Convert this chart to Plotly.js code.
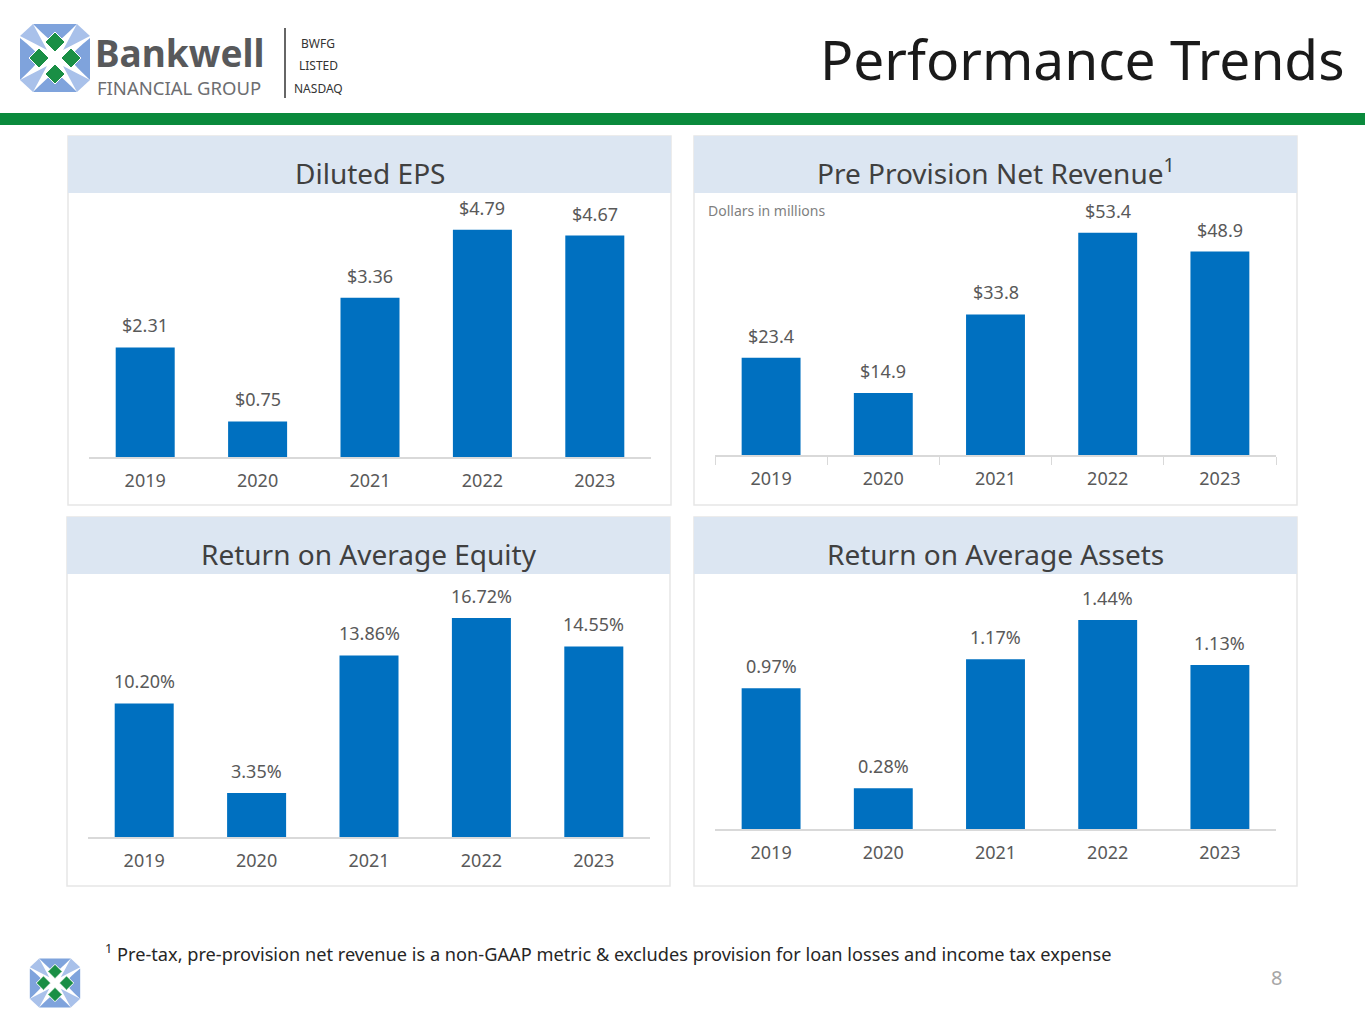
<!DOCTYPE html>
<html>
<head>
<meta charset="utf-8">
<script src="https://cdn.plot.ly/plotly-3.0.1.min.js"></script>
<style>
  html, body { margin: 0; padding: 0; background: #ffffff; }
  #chart { width: 1365px; height: 1024px; }
</style>
</head>
<body>
<div id="chart"></div>
<script>
// ---- Data ----
const years = ['2019', '2020', '2021', '2022', '2023'];
const epsValues = [2.31, 0.75, 3.36, 4.79, 4.67];
const ppnrValues = [23.4, 14.9, 33.8, 53.4, 48.9];
const roaeValues = [10.20, 3.35, 13.86, 16.72, 14.55];
const roaaValues = [0.97, 0.28, 1.17, 1.44, 1.13];

const epsLabels = epsValues.map(v => '$' + v.toFixed(2));
const ppnrLabels = ppnrValues.map(v => '$' + v.toFixed(1));
const roaeLabels = roaeValues.map(v => v.toFixed(2) + '%');
const roaaLabels = roaaValues.map(v => v.toFixed(2) + '%');

const panelTitles = ['Diluted EPS', 'Pre Provision Net Revenue<sup>1</sup>', 'Return on Average Equity', 'Return on Average Assets'];

// ---- Geometry helpers (pixel -> paper) ----
const W = 1365, H = 1024;
const X = p => p / W;
const Y = p => 1 - p / H;

const FONT = '"Noto Sans", "Open Sans", sans-serif';
const BAR = '#0070C0';
const LABEL = '#595959';

const panels = [
  {xa: 'x',  ya: 'y',  xd: [89, 651],  yd: [457, 200], box: [68, 136, 671, 505], vals: epsValues,  labels: epsLabels,  ymax: 5.42, ticks: false},
  {xa: 'x2', ya: 'y2', xd: [715, 1276], yd: [455, 200], box: [694, 136, 1297, 505], vals: ppnrValues, labels: ppnrLabels, ymax: 61.3, ticks: true},
  {xa: 'x3', ya: 'y3', xd: [88, 650],  yd: [837, 580], box: [67, 517, 670, 886], vals: roaeValues, labels: roaeLabels, ymax: 19.62, ticks: false},
  {xa: 'x4', ya: 'y4', xd: [715, 1276], yd: [829, 580], box: [694, 517, 1297, 886], vals: roaaValues, labels: roaaLabels, ymax: 1.716, ticks: false}
];

const traces = [];
const layout = {
  width: W, height: H,
  margin: {l: 0, r: 0, t: 0, b: 0},
  paper_bgcolor: '#ffffff',
  plot_bgcolor: 'rgba(0,0,0,0)',
  showlegend: false,
  bargap: 0.475,
  font: {family: FONT, color: LABEL},
  shapes: [],
  annotations: []
};

panels.forEach((p, i) => {
  traces.push({
    type: 'bar', x: years, y: p.vals,
    xaxis: p.xa, yaxis: p.ya,
    marker: {color: BAR, line: {width: 0}},
    hoverinfo: 'skip'
  });
  const xk = 'xaxis' + (i === 0 ? '' : i + 1);
  const yk = 'yaxis' + (i === 0 ? '' : i + 1);
  const xa = {
    domain: [X(p.xd[0]), X(p.xd[1])],
    anchor: p.ya,
    type: 'category',
    range: [-0.5, years.length - 0.5],
    showgrid: false, zeroline: false,
    showline: true, linecolor: '#d9d9d9', linewidth: 1.5,
    ticks: p.ticks ? 'outside' : '',
    ticklen: p.ticks ? 8 : 0,
    tickcolor: '#d9d9d9',
    ticklabelstandoff: 7,
    tickfont: {family: FONT, size: 18, color: LABEL},
    fixedrange: true
  };
  if (p.ticks) xa.tickson = 'boundaries';
  layout[xk] = xa;
  layout[yk] = {
    domain: [Y(p.yd[0]), Y(p.yd[1])],
    anchor: p.xa,
    range: [0, p.ymax],
    visible: false,
    fixedrange: true
  };
  // panel box
  const b = p.box;
  layout.shapes.push({type: 'rect', xref: 'paper', yref: 'paper', layer: 'below',
    x0: X(b[0]), x1: X(b[2]), y0: Y(b[1]), y1: Y(b[3]),
    line: {color: '#e6e6e6', width: 1.5}, fillcolor: '#ffffff'});
  // header band
  layout.shapes.push({type: 'rect', xref: 'paper', yref: 'paper', layer: 'below',
    x0: X(b[0]), x1: X(b[2]), y0: Y(b[1]), y1: Y(b[1] + 57),
    line: {width: 0}, fillcolor: '#dce6f2'});
  // header title
  layout.annotations.push({xref: 'paper', yref: 'paper',
    x: X((b[0] + b[2]) / 2), y: Y(b[1] + (i === 1 ? 35 : 37)), xanchor: 'center', yanchor: 'middle',
    text: panelTitles[i], showarrow: false,
    font: {family: FONT, size: 28, color: '#404040'}});
  // value labels (x given as category index)
  years.forEach((yr, j) => {
    layout.annotations.push({xref: p.xa, yref: p.ya, x: j, y: p.vals[j],
      xanchor: 'center', yanchor: 'bottom', yshift: 8,
      text: p.labels[j], showarrow: false,
      font: {family: FONT, size: 18, color: LABEL}});
  });
});

// Dollars in millions
layout.annotations.push({xref: 'paper', yref: 'paper', x: X(706), y: Y(210), xanchor: 'left', yanchor: 'middle',
  text: 'Dollars in millions', showarrow: false, font: {family: FONT, size: 14, color: '#7f7f7f'}});

// Green divider
layout.shapes.push({type: 'rect', xref: 'paper', yref: 'paper', layer: 'below',
  x0: 0, x1: 1, y0: Y(113), y1: Y(125), line: {width: 0}, fillcolor: '#0a8a3c'});

// Main title
layout.annotations.push({xref: 'paper', yref: 'paper', x: X(1347), y: Y(58), xanchor: 'right', yanchor: 'middle',
  text: 'Performance Trends', showarrow: false, font: {family: FONT, size: 55, color: '#1a1a1a'}});

// Logo text
layout.annotations.push({xref: 'paper', yref: 'paper', x: X(93), y: Y(52), xanchor: 'left', yanchor: 'middle',
  height: 38, text: '<b>Bankwell</b>', showarrow: false, font: {family: FONT, size: 37, color: '#58595b'}});
layout.annotations.push({xref: 'paper', yref: 'paper', x: X(95), y: Y(87), xanchor: 'left', yanchor: 'middle',
  height: 20, text: 'FINANCIAL GROUP', showarrow: false, font: {family: FONT, size: 18.5, color: '#6d6e71'}});
layout.shapes.push({type: 'line', xref: 'paper', yref: 'paper', x0: X(285), x1: X(285), y0: Y(28), y1: Y(98),
  line: {color: '#333333', width: 1.5}});
[['BWFG', 43], ['LISTED', 65], ['NASDAQ', 88]].forEach(t => {
  layout.annotations.push({xref: 'paper', yref: 'paper', x: X(318), y: Y(t[1]), xanchor: 'center', yanchor: 'middle',
    text: t[0], showarrow: false, font: {family: FONT, size: 12, color: '#333333'}});
});

// Logo icon drawing (decorative)
function logoIcon(cx, cy, s) {
  const pt = (dx, dy) => X(cx + dx * s) + ',' + Y(cy + dy * s);
  const blue = '#7fa3dc', green = '#1a8f45';
  const out = [];
  const petals = [
    [[-22,-34],[22,-34],[8,-20],[0,-14],[-8,-20]],
    [[-22,34],[22,34],[8,20],[0,14],[-8,20]],
    [[-35,-20],[-35,22],[-20,8],[-14,0],[-20,-8]],
    [[35,-20],[35,22],[20,8],[14,0],[20,-8]]
  ];
  petals.forEach(pp => {
    const path = 'M ' + pt(pp[0][0], pp[0][1]) + ' L ' + pt(pp[1][0], pp[1][1]) + ' Q ' + pt(pp[2][0], pp[2][1]) + ' ' + pt(pp[3][0], pp[3][1]) + ' Q ' + pt(pp[4][0], pp[4][1]) + ' ' + pt(pp[0][0], pp[0][1]) + ' Z';
    out.push({type: 'path', xref: 'paper', yref: 'paper', path: path, fillcolor: blue, line: {width: 0}});
  });
  [[-1,-1],[1,-1],[-1,1],[1,1]].forEach(d => {
    const path = 'M ' + pt(d[0]*8, d[1]*8) + ' L ' + pt(d[0]*22, d[1]*34) + ' L ' + pt(d[0]*35, d[1]*22) + ' Z';
    out.push({type: 'path', xref: 'paper', yref: 'paper', path: path, fillcolor: '#a9c1ea', line: {width: 0}});
  });
  [[0,-16],[0,16],[-16,0],[16,0]].forEach(c => {
    const r = 10;
    const path = 'M ' + pt(c[0], c[1]-r) + ' L ' + pt(c[0]+r, c[1]) + ' L ' + pt(c[0], c[1]+r) + ' L ' + pt(c[0]-r, c[1]) + ' Z';
    out.push({type: 'path', xref: 'paper', yref: 'paper', path: path, fillcolor: green, line: {color: '#ffffff', width: 1}});
  });
  return out;
}
layout.shapes.push(...logoIcon(55, 58, 1));
layout.shapes.push(...logoIcon(55, 983, 0.72));

// Footnote
layout.annotations.push({xref: 'paper', yref: 'paper', x: X(103), y: Y(952), xanchor: 'left', yanchor: 'middle',
  text: '<sup>1</sup> Pre-tax, pre-provision net revenue is a non-GAAP metric &amp; excludes provision for loan losses and income tax expense',
  showarrow: false, font: {family: FONT, size: 18.2, color: '#262626'}});
// Page number
layout.annotations.push({xref: 'paper', yref: 'paper', x: X(1276), y: Y(977), xanchor: 'center', yanchor: 'middle',
  text: '8', showarrow: false, font: {family: FONT, size: 20, color: '#a6a6a6'}});

Plotly.newPlot('chart', traces, layout, {displayModeBar: false, staticPlot: true});
</script>
</body>
</html>
